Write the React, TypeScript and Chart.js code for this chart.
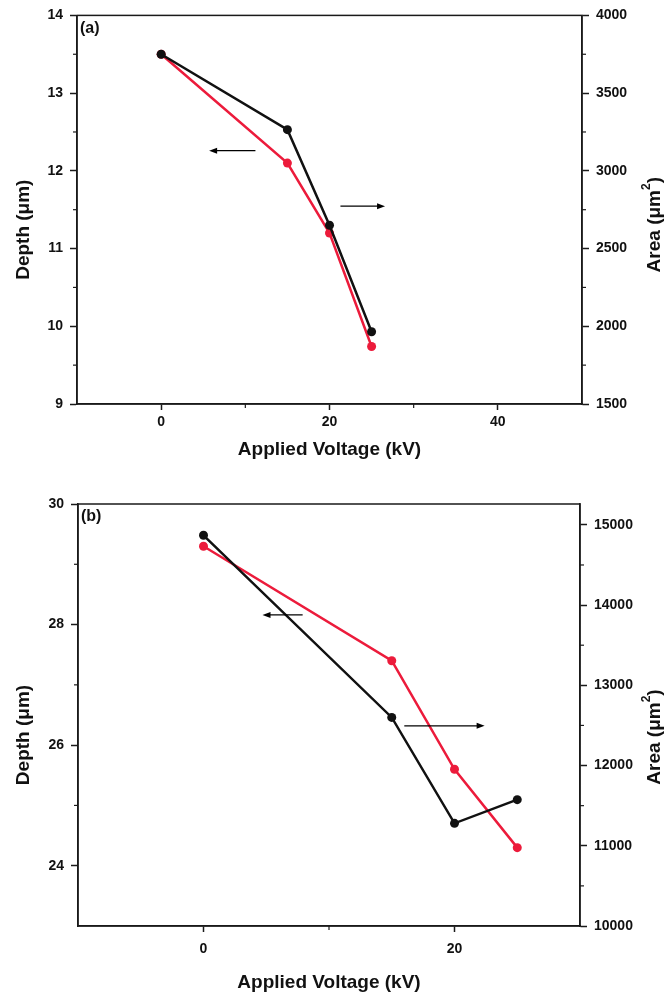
import React, { useEffect, useRef } from 'react';
import { Chart, registerables } from 'chart.js';

Chart.register(...registerables);

// ---------- data ----------
const VOLTAGE = [0, 15, 20, 25];

// panel (a)
const DEPTH_A = [13.5, 12.1, 11.2, 9.74];
const AREA_A = [3750, 3265, 2650, 1965];
const X_RANGE_A = [-10, 50];
const X_MAJOR_A = [0, 20, 40];
const X_MINOR_A = [10, 30];
const DEPTH_RANGE_A = [9, 14];
const DEPTH_MAJOR_A = [9, 10, 11, 12, 13, 14];
const DEPTH_MINOR_A = [9.5, 10.5, 11.5, 12.5, 13.5];
const AREA_RANGE_A = [1500, 4000];
const AREA_MAJOR_A = [1500, 2000, 2500, 3000, 3500, 4000];
const AREA_MINOR_A = [1750, 2250, 2750, 3250, 3750];
const ARROWS_A = [
  { from: [11.2, 12.26], to: [5.7, 12.26] },
  { from: [21.3, 11.545], to: [26.6, 11.545] },
];

// panel (b)
const DEPTH_B = [29.3, 27.4, 25.6, 24.3];
const AREA_B = [14870, 12600, 11280, 11575];
const X_RANGE_B = [-10, 30];
const X_MAJOR_B = [0, 20];
const X_MINOR_B = [10];
const DEPTH_RANGE_B = [23, 30];
const DEPTH_MAJOR_B = [24, 26, 28, 30];
const DEPTH_MINOR_B = [25, 27, 29];
const AREA_RANGE_B = [10000, 15260];
const AREA_MAJOR_B = [10000, 11000, 12000, 13000, 14000, 15000];
const AREA_MINOR_B = [10500, 11500, 12500, 13500, 14500];
const ARROWS_B = [
  { from: [7.9, 28.16], to: [4.7, 28.16] },
  { from: [16.0, 26.32], to: [22.4, 26.32] },
];

const X_TITLE = 'Applied Voltage (kV)';
const DEPTH_TITLE = 'Depth (\u03bcm)';
const AREA_TITLE_MAIN = 'Area (\u03bcm';
const AREA_TITLE_SUP = '2';
const AREA_TITLE_END = ')';

// ---------- styles ----------
const FONT = '"Liberation Sans", Arial, Helvetica, sans-serif';
const BLACK = '#111111';
const RED = '#ec1b3b';
const AXIS = '#1a1a1a';
const TICK_SIZE = 14;
const TITLE_SIZE = 19;

type Panel = {
  label: string;
  depth: number[];
  area: number[];
  xRange: number[];
  xMajor: number[];
  xMinor: number[];
  dRange: number[];
  dMajor: number[];
  dMinor: number[];
  aRange: number[];
  aMajor: number[];
  aMinor: number[];
  arrows: { from: number[]; to: number[] }[];
  canvasTop: number;
  canvasH: number;
  padTop: number;
  leftW: number;
  rightW: number;
  xH: number;
  xTickPad: number;
  xTitlePad: number;
  leftTitleX: number;
  rightTitleX: number;
  depthShift: number;
  areaShift: number;
};

const PANEL_A: Panel = {
  label: '(a)',
  depth: DEPTH_A, area: AREA_A,
  xRange: X_RANGE_A, xMajor: X_MAJOR_A, xMinor: X_MINOR_A,
  dRange: DEPTH_RANGE_A, dMajor: DEPTH_MAJOR_A, dMinor: DEPTH_MINOR_A,
  aRange: AREA_RANGE_A, aMajor: AREA_MAJOR_A, aMinor: AREA_MINOR_A,
  arrows: ARROWS_A,
  canvasTop: 0, canvasH: 475, padTop: 15, leftW: 77, rightW: 87, xH: 71,
  xTickPad: 4, xTitlePad: 13.6, leftTitleX: 24, rightTitleX: 655, depthShift: 20, areaShift: 15,
};

const PANEL_B: Panel = {
  label: '(b)',
  depth: DEPTH_B, area: AREA_B,
  xRange: X_RANGE_B, xMajor: X_MAJOR_B, xMinor: X_MINOR_B,
  dRange: DEPTH_RANGE_B, dMajor: DEPTH_MAJOR_B, dMinor: DEPTH_MINOR_B,
  aRange: AREA_RANGE_B, aMajor: AREA_MAJOR_B, aMinor: AREA_MINOR_B,
  arrows: ARROWS_B,
  canvasTop: 475, canvasH: 523, padTop: 29, leftW: 78, rightW: 89, xH: 72,
  xTickPad: 9, xTitlePad: 3.6, leftTitleX: 24, rightTitleX: 655, depthShift: 20, areaShift: 22,
};

function makeDecor(p: Panel) {
  return {
    id: 'decor',
    afterDraw(chart: any) {
      const { ctx, chartArea: ca, scales } = chart;
      const seg = (x1: number, y1: number, x2: number, y2: number) => {
        ctx.beginPath();
        ctx.moveTo(x1, y1);
        ctx.lineTo(x2, y2);
        ctx.stroke();
      };
      ctx.save();
      ctx.strokeStyle = AXIS;
      ctx.fillStyle = AXIS;
      // frame
      ctx.lineWidth = 1.5;
      ctx.strokeRect(ca.left, ca.top, ca.right - ca.left, ca.bottom - ca.top);
      // minor ticks
      ctx.lineWidth = 1.2;
      const L = 4;
      for (const v of p.xMinor) {
        const px = scales.x.getPixelForValue(v);
        seg(px, ca.bottom, px, ca.bottom + L);
      }
      for (const v of p.dMinor) {
        const py = scales.y.getPixelForValue(v);
        seg(ca.left - L, py, ca.left, py);
      }
      for (const v of p.aMinor) {
        const py = scales.y1.getPixelForValue(v);
        seg(ca.right, py, ca.right + L, py);
      }
      // arrows
      ctx.strokeStyle = '#000';
      ctx.fillStyle = '#000';
      for (const a of p.arrows) {
        const x1 = scales.x.getPixelForValue(a.from[0]);
        const y1 = scales.y.getPixelForValue(a.from[1]);
        const x2 = scales.x.getPixelForValue(a.to[0]);
        const y2 = scales.y.getPixelForValue(a.to[1]);
        const ang = Math.atan2(y2 - y1, x2 - x1);
        const hl = 8, hw = 3;
        ctx.lineWidth = 1.2;
        seg(x1, y1, x2 - Math.cos(ang) * hl * 0.6, y2 - Math.sin(ang) * hl * 0.6);
        ctx.beginPath();
        ctx.moveTo(x2, y2);
        ctx.lineTo(x2 - Math.cos(ang) * hl - Math.sin(ang) * hw, y2 - Math.sin(ang) * hl + Math.cos(ang) * hw);
        ctx.lineTo(x2 - Math.cos(ang) * hl + Math.sin(ang) * hw, y2 - Math.sin(ang) * hl - Math.cos(ang) * hw);
        ctx.closePath();
        ctx.fill();
      }
      // panel label
      ctx.fillStyle = '#111';
      ctx.font = `bold 16px ${FONT}`;
      ctx.textAlign = 'left';
      ctx.textBaseline = 'top';
      ctx.fillText(p.label, ca.left + 3, ca.top + 5);
      // y titles
      const cy = (ca.top + ca.bottom) / 2;
      ctx.font = `bold ${TITLE_SIZE}px ${FONT}`;
      ctx.textBaseline = 'middle';
      ctx.textAlign = 'center';
      ctx.save();
      ctx.translate(p.leftTitleX, cy + p.depthShift);
      ctx.rotate(-Math.PI / 2);
      ctx.fillText(DEPTH_TITLE, 0, 0);
      ctx.restore();

      ctx.save();
      ctx.translate(p.rightTitleX, cy + p.areaShift);
      ctx.rotate(-Math.PI / 2);
      ctx.textAlign = 'left';
      const mainFont = `bold ${TITLE_SIZE}px ${FONT}`;
      const supFont = `bold 12px ${FONT}`;
      ctx.font = mainFont;
      const w1 = ctx.measureText(AREA_TITLE_MAIN).width;
      const w3 = ctx.measureText(AREA_TITLE_END).width;
      ctx.font = supFont;
      const w2 = ctx.measureText(AREA_TITLE_SUP).width;
      let x0 = -(w1 + w2 + w3) / 2;
      ctx.font = mainFont;
      ctx.fillText(AREA_TITLE_MAIN, x0, 0);
      x0 += w1;
      ctx.font = supFont;
      ctx.fillText(AREA_TITLE_SUP, x0, -8);
      x0 += w2;
      ctx.font = mainFont;
      ctx.fillText(AREA_TITLE_END, x0, 0);
      ctx.restore();

      ctx.restore();
    },
  };
}

function axisCommon(major: number[]) {
  return {
    type: 'linear' as const,
    afterBuildTicks: (s: any) => {
      s.ticks = major.map((v) => ({ value: v }));
    },
    grid: {
      drawOnChartArea: false,
      drawTicks: true,
      tickLength: 7,
      tickColor: AXIS,
      tickWidth: 1.5,
    },
    border: { display: true, color: AXIS, width: 1.5 },
    ticks: {
      color: '#111',
      font: { family: FONT, size: TICK_SIZE, weight: 'bold' as const },
      padding: 7,
      autoSkip: false,
      maxRotation: 0,
      callback: (v: any) => String(v),
    },
  };
}

function makeConfig(p: Panel): any {
  const pts = (vals: number[]) => VOLTAGE.map((x, i) => ({ x, y: vals[i] }));
  const xCommon = axisCommon(p.xMajor);
  return {
    type: 'line',
    data: {
      datasets: [
        {
          label: 'Area',
          data: pts(p.area),
          yAxisID: 'y1',
          borderColor: BLACK,
          backgroundColor: BLACK,
          pointBackgroundColor: BLACK,
          pointBorderColor: BLACK,
          borderWidth: 2.5,
          pointRadius: 4.5,
          pointBorderWidth: 0,
          tension: 0,
        },
        {
          label: 'Depth',
          data: pts(p.depth),
          yAxisID: 'y',
          borderColor: RED,
          backgroundColor: RED,
          pointBackgroundColor: RED,
          pointBorderColor: RED,
          borderWidth: 2.5,
          pointRadius: 4.5,
          pointBorderWidth: 0,
          tension: 0,
        },
      ],
    },
    options: {
      responsive: false,
      animation: false,
      events: [],
      layout: { padding: { top: p.padTop, left: 0, right: 0, bottom: 0 } },
      plugins: { legend: { display: false }, tooltip: { enabled: false } },
      scales: {
        x: {
          ...xCommon,
          position: 'bottom',
          min: p.xRange[0],
          max: p.xRange[1],
          afterFit: (s: any) => {
            s.height = p.xH;
          },
          grid: { ...xCommon.grid, tickLength: 6 },
          ticks: { ...xCommon.ticks, padding: p.xTickPad },
          title: {
            display: true,
            text: X_TITLE,
            color: '#111',
            font: { family: FONT, size: TITLE_SIZE, weight: 'bold' },
            padding: { top: 0, bottom: p.xTitlePad },
          },
        },
        y: {
          ...axisCommon(p.dMajor),
          position: 'left',
          min: p.dRange[0],
          max: p.dRange[1],
          afterFit: (s: any) => {
            s.width = p.leftW;
          },
        },
        y1: {
          ...axisCommon(p.aMajor),
          position: 'right',
          min: p.aRange[0],
          max: p.aRange[1],
          afterFit: (s: any) => {
            s.width = p.rightW;
          },
        },
      },
    },
    plugins: [makeDecor(p)],
  };
}

function PanelChart({ p }: { p: Panel }) {
  const ref = useRef<HTMLCanvasElement>(null);
  useEffect(() => {
    const chart = new Chart(ref.current as HTMLCanvasElement, makeConfig(p));
    return () => chart.destroy();
  }, [p]);
  return (
    <canvas
      ref={ref}
      width={669}
      height={p.canvasH}
      style={{ position: 'absolute', left: 0, top: p.canvasTop, width: 669, height: p.canvasH, display: 'block' }}
    />
  );
}

export default function App() {
  return (
    <div style={{ position: 'absolute', left: 0, top: 0, width: 669, height: 998, background: '#ffffff', overflow: 'hidden' }}>
      <PanelChart p={PANEL_A} />
      <PanelChart p={PANEL_B} />
    </div>
  );
}
